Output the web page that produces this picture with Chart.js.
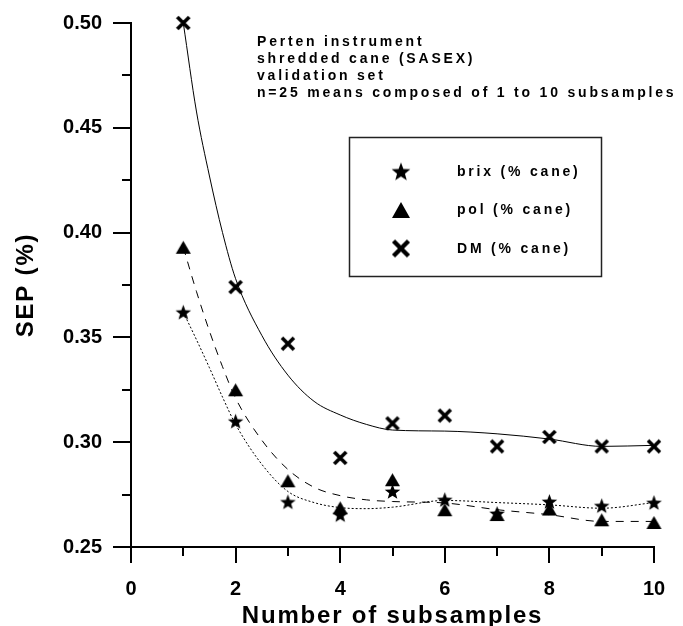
<!DOCTYPE html>
<html><head><meta charset="utf-8">
<script src="https://cdn.jsdelivr.net/npm/chart.js@4/dist/chart.umd.min.js"></script>
<style>html,body{margin:0;padding:0;background:#fff;}#wrap{width:683px;height:626px;}</style>
</head><body><div id="wrap"><canvas id="c" width="683" height="626"></canvas></div>
<script>
// ---- data ----
const subsamples = [1, 2, 3, 4, 5, 6, 7, 8, 9, 10];
const brix = [0.362, 0.310, 0.2715, 0.2654, 0.2765, 0.2726, 0.2660, 0.2717, 0.2697, 0.2712];
const pol  = [0.393, 0.325, 0.2816, 0.2687, 0.2821, 0.2678, 0.2655, 0.2681, 0.2630, 0.2617];
const dm   = [0.500, 0.374, 0.347, 0.2925, 0.309, 0.3127, 0.298, 0.3025, 0.298, 0.298];
// fitted curves
const curveX     = [1, 1.25, 1.5, 1.75, 2, 2.5, 3, 3.5, 4, 4.5, 5, 6, 7, 8, 9, 10];
const brixCurve  = [0.362, 0.349, 0.3355, 0.3215, 0.3085, 0.2895, 0.2765, 0.2712, 0.2688, 0.2683, 0.2690, 0.2722, 0.2712, 0.2701, 0.2685, 0.2712];
const polCurve   = [0.393, 0.372, 0.353, 0.336, 0.321, 0.301, 0.287, 0.2785, 0.2745, 0.2725, 0.2717, 0.2710, 0.2678, 0.2654, 0.2622, 0.2622];
const dmCurve    = [0.500, 0.458, 0.427, 0.400, 0.378, 0.351, 0.332, 0.3195, 0.313, 0.3085, 0.3058, 0.3053, 0.3040, 0.3015, 0.2980, 0.2985];
const xMajorTicks = [0, 2, 4, 6, 8, 10];
const xMinorTicks = [1, 3, 5, 7, 9];
const yMajorTicks = [0.25, 0.30, 0.35, 0.40, 0.45, 0.50];
const yMinorTicks = [0.275, 0.325, 0.375, 0.425, 0.475];
const seriesNames = ['brix (% cane)', 'pol (% cane)', 'DM (% cane)'];
const noteLines = ['Perten instrument', 'shredded cane (SASEX)', 'validation set', 'n=25 means composed of 1 to 10 subsamples'];
const xTitle = 'Number of subsamples';
const yTitle = 'SEP (%)';

const FONT = "'Liberation Sans', Arial, Helvetica, sans-serif";

// ---- marker images ----
function makeStar(R){
  const s = Math.ceil(R*2+2), c = document.createElement('canvas'); c.width = s; c.height = s;
  const g = c.getContext('2d'); g.fillStyle = '#000'; g.beginPath();
  const cx = s/2, cy = s/2 + R*0.09;
  for (let i = 0; i < 10; i++) { const r = i % 2 ? R*0.42 : R; const a = -Math.PI/2 + i*Math.PI/5; g.lineTo(cx + r*Math.cos(a), cy + r*Math.sin(a)); }
  g.closePath(); g.fill(); return c;
}
function makeTri(w, h){
  const c = document.createElement('canvas'); c.width = Math.ceil(w+2); c.height = Math.ceil(h+2);
  const g = c.getContext('2d'); g.fillStyle = '#000'; g.beginPath();
  g.moveTo(c.width/2, 1); g.lineTo(c.width/2 + w/2, 1+h); g.lineTo(c.width/2 - w/2, 1+h); g.closePath(); g.fill(); return c;
}
function makeX(w, lw){
  const s = Math.ceil(w+lw), c = document.createElement('canvas'); c.width = s; c.height = s;
  const g = c.getContext('2d'); g.strokeStyle = '#000'; g.lineWidth = lw; g.lineCap = 'butt';
  const o = (s - w)/2;
  g.beginPath(); g.moveTo(o, o); g.lineTo(o+w, o+w); g.moveTo(o+w, o); g.lineTo(o, o+w); g.stroke(); return c;
}
const starPt = makeStar(8.2), triPt = makeTri(15, 13), xPt = makeX(12, 3.6);
const starLg = makeStar(9.8), triLg = makeTri(18, 16), xLg = makeX(15, 4.4);

const pts = arr => subsamples.map((x, i) => ({x, y: arr[i]}));
const crv = arr => curveX.map((x, i) => ({x, y: arr[i]}));

const overlay = {
  id: 'overlay',
  afterDraw(chart){
    const {ctx, scales: {x, y}, chartArea: a} = chart;
    ctx.save();
    ctx.strokeStyle = '#000'; ctx.lineWidth = 2; ctx.lineCap = 'butt';
    const seg = (x1, y1, x2, y2) => { ctx.beginPath(); ctx.moveTo(x1, y1); ctx.lineTo(x2, y2); ctx.stroke(); };
    yMajorTicks.forEach(v => { const p = Math.round(y.getPixelForValue(v)); seg(a.left - 18, p, a.left, p); });
    yMinorTicks.forEach(v => { const p = Math.round(y.getPixelForValue(v)); seg(a.left - 9, p, a.left, p); });
    xMajorTicks.forEach(v => { const p = Math.round(x.getPixelForValue(v)); seg(p, a.bottom, p, a.bottom + 16); });
    xMinorTicks.forEach(v => { const p = Math.round(x.getPixelForValue(v)); seg(p, a.bottom, p, a.bottom + 9); });

    // axis titles
    ctx.fillStyle = '#000';
    ctx.font = 'bold 24px ' + FONT;
    ctx.letterSpacing = '1.8px';
    ctx.textAlign = 'center'; ctx.textBaseline = 'alphabetic';
    ctx.fillText(xTitle, (a.left + a.right)/2, 623);
    ctx.save();
    ctx.translate(33, (a.top + a.bottom)/2);
    ctx.rotate(-Math.PI/2);
    ctx.fillText(yTitle, 0, 0);
    ctx.restore();

    // annotation
    ctx.font = 'bold 14px ' + FONT;
    ctx.letterSpacing = '2.8px';
    ctx.textAlign = 'left';
    noteLines.forEach((t, i) => ctx.fillText(t, 257, 46 + i*17));

    // legend
    ctx.lineWidth = 1.5;
    ctx.strokeStyle = '#222';
    ctx.strokeRect(349.5, 137.5, 252, 139);
    const imgs = [starLg, triLg, xLg];
    const rows = [171.5, 210, 248.5];
    ctx.textBaseline = 'middle';
    seriesNames.forEach((n, i) => {
      const im = imgs[i];
      ctx.drawImage(im, 401 - im.width/2, rows[i] - im.height/2);
      ctx.fillText(n, 457, rows[i] + 0.5);
    });
    ctx.restore();
  }
};

const hiddenGrid = {display: true, drawOnChartArea: false, drawTicks: true, color: 'rgba(0,0,0,0)'};

new Chart(document.getElementById('c'), {
  type: 'line',
  data: {
    datasets: [
      {label: seriesNames[0], data: pts(brix), showLine: false, pointStyle: starPt, pointRadius: 8, borderColor: '#000', backgroundColor: '#000', clip: false},
      {label: seriesNames[1], data: pts(pol),  showLine: false, pointStyle: triPt,  pointRadius: 8, borderColor: '#000', backgroundColor: '#000', clip: false},
      {label: seriesNames[2], data: pts(dm),   showLine: false, pointStyle: xPt,    pointRadius: 8, borderColor: '#000', backgroundColor: '#000', clip: false},
      {label: 'brix fit', data: crv(brixCurve), pointRadius: 0, borderColor: '#000', borderWidth: 1, borderDash: [2, 2], cubicInterpolationMode: 'monotone', fill: false, clip: false},
      {label: 'pol fit',  data: crv(polCurve),  pointRadius: 0, borderColor: '#000', borderWidth: 1, borderDash: [8, 7], cubicInterpolationMode: 'monotone', fill: false, clip: false},
      {label: 'DM fit',   data: crv(dmCurve),   pointRadius: 0, borderColor: '#000', borderWidth: 1, cubicInterpolationMode: 'monotone', fill: false, clip: false}
    ]
  },
  options: {
    responsive: false, animation: false, devicePixelRatio: 1,
    layout: {padding: {left: 0, right: 29, top: 23, bottom: 0}},
    plugins: {legend: {display: false}, tooltip: {enabled: false}},
    scales: {
      x: {
        type: 'linear', min: 0, max: 10,
        afterBuildTicks: s => { s.ticks = xMajorTicks.map(v => ({value: v})); },
        afterFit: s => { s.height = 79; },
        grid: Object.assign({tickLength: 28}, hiddenGrid),
        border: {display: true, color: '#000', width: 2},
        ticks: {color: '#000', padding: 2, font: {family: FONT, size: 20, weight: 'bold'}, maxRotation: 0, callback: v => String(v)}
      },
      y: {
        type: 'linear', min: 0.25, max: 0.50,
        afterBuildTicks: s => { s.ticks = yMajorTicks.map(v => ({value: v})); },
        afterFit: s => { s.width = 131; },
        grid: Object.assign({tickLength: 27}, hiddenGrid),
        border: {display: true, color: '#000', width: 2},
        ticks: {color: '#000', padding: 2, font: {family: FONT, size: 20, weight: 'bold'}, callback: v => Number(v).toFixed(2)}
      }
    }
  },
  plugins: [overlay]
});
</script></body></html>
